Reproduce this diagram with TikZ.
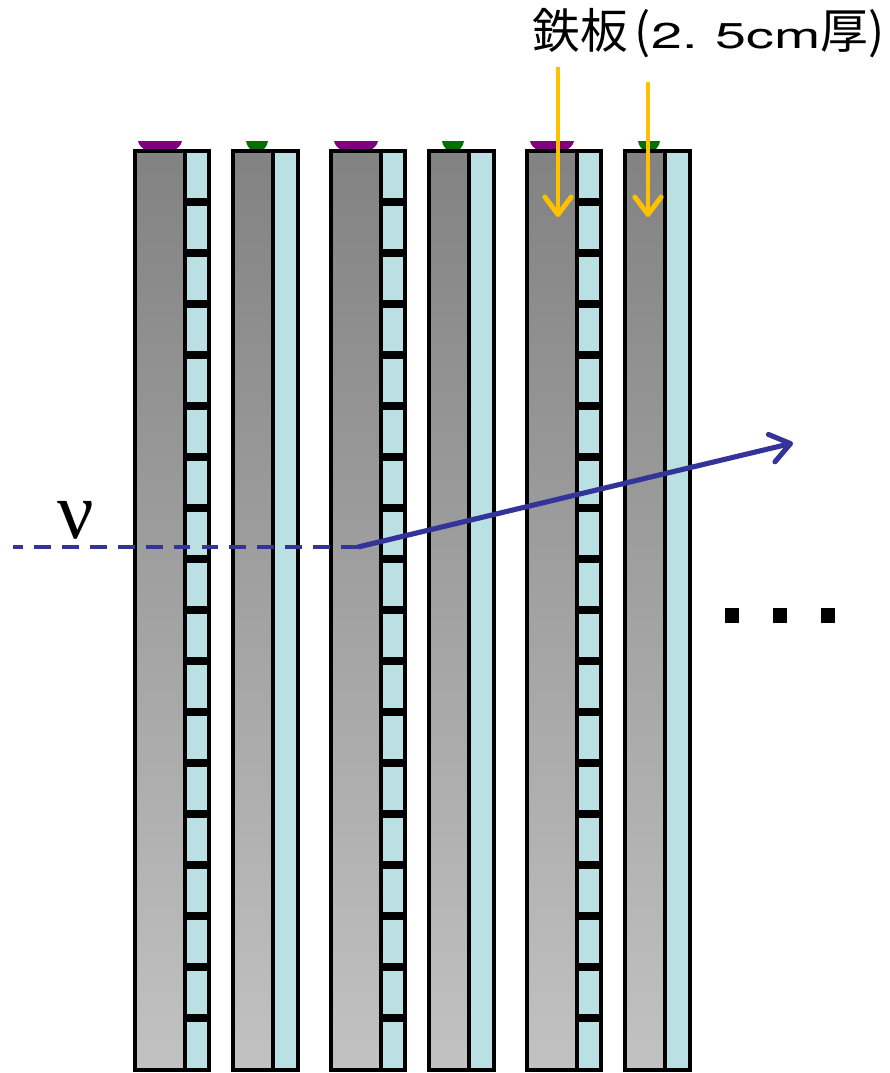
\documentclass[tikz,border=0pt]{standalone}
\usepackage{graphicx}
\usepackage{fontspec}
\newfontfamily\jpfont{Noto Sans CJK JP}
\newfontfamily\latinfont{TeX Gyre Heros}
\newfontfamily\grfont{Liberation Serif}
\usetikzlibrary{arrows.meta}

\definecolor{scint}{RGB}{186,224,228}
\definecolor{ironTop}{RGB}{130,130,130}
\definecolor{ironBot}{RGB}{194,194,194}
\definecolor{nuBlue}{RGB}{51,51,153}
\definecolor{labelOrange}{RGB}{255,192,0}
\definecolor{capPurple}{RGB}{128,0,128}
\definecolor{capGreen}{RGB}{0,112,0}

% wide Latin lettering inside the Japanese label
\newcommand{\wideLatin}[1]{\scalebox{1.55}[1]{\latinfont\fontsize{20.4}{20.4}\selectfont #1}}

\tikzset{
  ironplate/.style={draw=black, line width=2.2pt, top color=ironTop, bottom color=ironBot},
  scintbar/.style={draw=black, line width=2.2pt, fill=scint},
  segline/.style={draw=black, line width=4pt},
  beam/.style={nuBlue, line width=2.6pt},
  pointer/.style={labelOrange, line width=2.8pt,
    -{Straight Barb[round, length=10pt, width=15pt]}},
}

\begin{document}
\begin{tikzpicture}[x=0.02cm, y=-0.02cm]
\path[use as bounding box] (0,0) rectangle (890,1073);

% modules with segmented scintillator (iron 50 wide, scintillator 24 wide)
\foreach \xa in {135,331,527} {
  \fill[capPurple] (\xa+3,141) .. controls (\xa+6,157) and (\xa+44,157) .. (\xa+47,141) -- cycle;
  \path[ironplate] (\xa,151) rectangle (\xa+50,1070);
  \path[scintbar] (\xa+50,151) rectangle (\xa+74,1070);
  \foreach \k in {1,...,17}
    \draw[segline] (\xa+50,151+51*\k) -- (\xa+74,151+51*\k);
}

% modules with plain scintillator (iron 40 wide, scintillator 25 wide)
\foreach \xb in {233,429,625} {
  \fill[capGreen] (\xb+13,141) .. controls (\xb+16,156) and (\xb+32,156) .. (\xb+35,141) -- cycle;
  \path[ironplate] (\xb,151) rectangle (\xb+40,1070);
  \path[scintbar] (\xb+40,151) rectangle (\xb+65,1070);
}

% neutrino beam and outgoing track
\coordinate (nuStart) at (13,547);
\coordinate (vtx) at (358,547);
\coordinate (trackEnd) at (793,443);
\draw[beam, dash pattern=on 9.6pt off 6.3pt, dash phase=4pt] (nuStart) -- (vtx);
\draw[beam, line width=2.9pt, -{Straight Barb[round, length=11pt, width=16pt]}] (vtx) -- (trackEnd);
\node[font=\grfont\fontsize{46}{46}\selectfont, anchor=base, inner sep=0pt] (nu) at (76,538) {ν};

% iron plate label with pointers
\node[font=\jpfont\fontsize{27.2}{27.2}\selectfont, anchor=base west, inner sep=0pt] (plateLabel) at (532,48)
  {鉄板\hspace{3.5pt}(\hspace{1pt}\wideLatin{2.}\hspace{10pt}\wideLatin{5cm}厚)};
\coordinate (p1s) at (558,67);
\coordinate (p1e) at (558,217);
\coordinate (p2s) at (648,82);
\coordinate (p2e) at (648,217);
\draw[pointer] (p1s) -- (p1e);
\draw[pointer] (p2s) -- (p2e);

% continuation dots
\foreach \xd in {725,773,821}
  \fill (\xd,608) rectangle (\xd+14,623);
\end{tikzpicture}
\end{document}
